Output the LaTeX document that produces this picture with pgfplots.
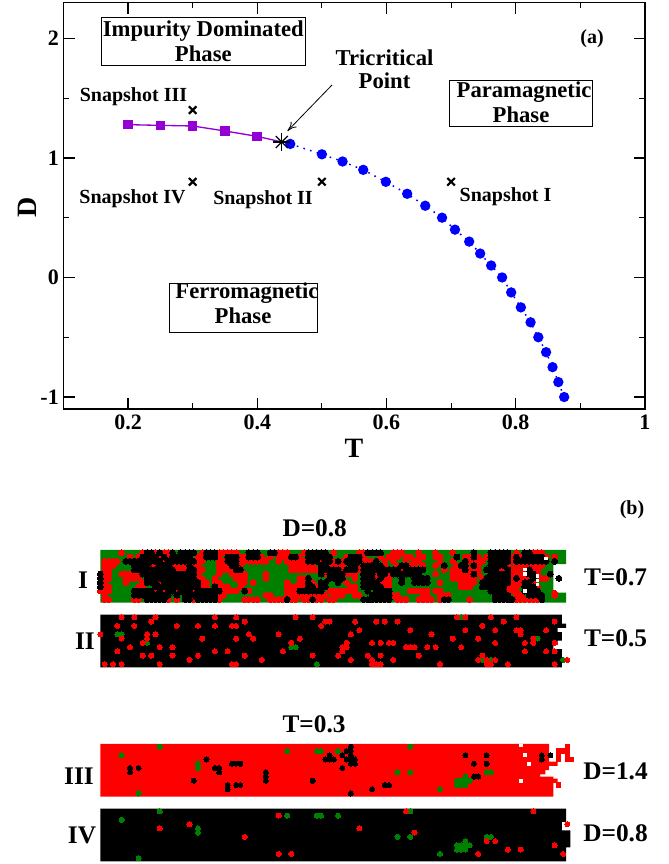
\documentclass[border=0pt]{standalone}
\usepackage{fontspec}
\setmainfont{Liberation Serif}
\usepackage{pgfplots}
\pgfplotsset{compat=1.18}
\usetikzlibrary{arrows.meta}
\definecolor{cgreen}{RGB}{0,128,0}
\definecolor{cred}{RGB}{255,0,0}
\definecolor{cpurple}{RGB}{148,0,211}
\definecolor{cblue}{RGB}{0,0,255}
\newcommand{\fs}[1]{\fontsize{#1}{#1}\selectfont\bfseries}
\pgfplotsset{
  panel/.style={scale only axis,width=359.8pt,height=39.525pt,anchor=south west,
    xmin=0,xmax=113,ymin=-0.65,ymax=11.75,y dir=reverse,hide axis},
  dotr/.style={only marks,mark=*,mark size=1.9pt,mark options={fill=cred,draw=cred,line width=0pt}},
  dotk/.style={only marks,mark=*,mark size=1.9pt,mark options={fill=black,draw=black,line width=0pt}},
  dotg/.style={only marks,mark=*,mark size=1.9pt,mark options={fill=cgreen,draw=cgreen,line width=0pt}},
}
\begin{document}
\begin{tikzpicture}[x=0.75pt,y=0.75pt]
\path[use as bounding box] (0,0) rectangle (668,864);
% ---------- panel (a)
\begin{axis}[scale only axis,width=436.1pt,height=304.9pt,anchor=south west,
  at={(47.6pt,341.25pt)},
  xmin=0.1,xmax=1,ymin=-1.1,ymax=2.3,
  xtick={0.2,0.4,0.6,0.8,1},xticklabels={0.2,0.4,0.6,0.8,1},
  minor xtick={0.3,0.5,0.7,0.9},
  ytick={-1,0,1,2},yticklabels={-1,0,1,2},
  minor ytick={-0.5,0.5,1.5},
  tick align=inside,
  major tick length=8.5pt,minor tick length=4.3pt,
  axis line style={line width=1.1pt},
  every tick/.style={black,line width=0.9pt},
  tick label style={font=\fs{16.5}},
  xticklabel style={yshift=-1pt},
  xlabel={T},ylabel={D},
  xlabel style={font=\fs{21},at={(axis description cs:0.4996,-0.096)},anchor=center},
  ylabel style={font=\fs{21},at={(axis description cs:-0.0628,0.497)},anchor=center,rotate=0},
  clip=false]
\addplot[cblue,line width=1.1pt,dash pattern=on 1.2pt off 4pt,mark=*,mark options={solid,fill=cblue,draw=cblue},mark size=3.3pt] coordinates {
(0.451,1.117)(0.5,1.03)(0.532,0.97)(0.564,0.90)(0.599,0.80)(0.632,0.70)(0.66,0.60)(0.686,0.50)(0.706,0.40)(0.728,0.30)(0.745,0.20)(0.762,0.10)(0.779,0.0)(0.793,-0.125)(0.808,-0.25)(0.823,-0.375)(0.835,-0.5)(0.847,-0.625)(0.857,-0.75)(0.866,-0.875)(0.875,-1.0)};
\addplot[cpurple,line width=1pt,mark=square*,mark options={fill=cpurple,draw=cpurple},mark size=3.1pt] coordinates {
(0.2,1.278)(0.25,1.272)(0.3,1.267)(0.35,1.225)(0.4,1.18)};
\addplot[cpurple,line width=1pt] coordinates {(0.4,1.18)(0.438,1.133)};
\addplot[only marks,mark=+,mark size=6.4pt,mark options={black,line width=0.9pt}] coordinates {(0.438,1.133)};
\addplot[only marks,mark=x,mark size=6.4pt,mark options={black,line width=0.9pt}] coordinates {(0.438,1.133)};
\addplot[only marks,mark=x,mark size=4pt,mark options={black,line width=1.6pt}] coordinates {(0.3,1.4)(0.3,0.8)(0.5,0.8)(0.7,0.8)};
\end{axis}
% ---------- snapshot I
\begin{axis}[panel,at={(75.25pt,195.98pt)},
  dotr/.append style={mark size=2.2pt},dotk/.append style={mark size=2.25pt}]
\addplot[draw=none,fill=cgreen] coordinates {(0,-0.65)(109.7,-0.65)(109.7,2.7)(106.7,2.7)(106.7,9.4)(109.7,9.4)(109.7,11.75)(0,11.75)} -- cycle;
\addplot[dotr] coordinates {
(5,0)(10,0)(13,0)(15,0)(16,0)(24,0)(28,0)(29,0)(30,0)(31,0)(32,0)(42,0)(43,0)(44,0)(48,0)(55,0)(61,0)(62,0)(69,0)(70,0)(71,0)(75,0)(79,0)(83,0)(98,0)(102,0)(103,0)(104,0)
(7,1)(9,1)(14,1)(16,1)(23,1)(24,1)(28,1)(33,1)(34,1)(38,1)(40,1)(42,1)(43,1)(44,1)(47,1)(58,1)(62,1)(66,1)(68,1)(69,1)(70,1)(72,1)(73,1)(75,1)(76,1)(79,1)(80,1)(86,1)(87,1)(89,1)(91,1)(97,1)(99,1)(105,1)(107,1)
(1,2)(2,2)(3,2)(4,2)(15,2)(23,2)(24,2)(28,2)(29,2)(33,2)(34,2)(35,2)(36,2)(37,2)(38,2)(39,2)(42,2)(44,2)(45,2)(46,2)(47,2)(48,2)(52,2)(55,2)(57,2)(62,2)(63,2)(64,2)(67,2)(69,2)(72,2)(74,2)(75,2)(80,2)(83,2)(87,2)(88,2)(89,2)(90,2)(97,2)
(1,3)(2,3)(3,3)(12,3)(13,3)(17,3)(18,3)(20,3)(22,3)(23,3)(28,3)(29,3)(30,3)(33,3)(45,3)(46,3)(47,3)(48,3)(49,3)(50,3)(54,3)(55,3)(56,3)(57,3)(61,3)(67,3)(70,3)(73,3)(74,3)(76,3)(79,3)(84,3)(89,3)(96,3)(98,3)(99,3)(100,3)(101,3)(102,3)(103,3)(104,3)
(1,4)(2,4)(18,4)(19,4)(20,4)(23,4)(24,4)(28,4)(29,4)(30,4)(31,4)(45,4)(46,4)(47,4)(48,4)(49,4)(50,4)(51,4)(57,4)(61,4)(71,4)(81,4)(83,4)(84,4)(85,4)(87,4)(88,4)(89,4)(94,4)(95,4)(97,4)(98,4)(100,4)(102,4)(103,4)
(1,5)(2,5)(5,5)(6,5)(7,5)(8,5)(9,5)(23,5)(28,5)(31,5)(32,5)(33,5)(34,5)(39,5)(53,5)(58,5)(59,5)(60,5)(65,5)(68,5)(79,5)(83,5)(84,5)(85,5)(86,5)(87,5)(89,5)(97,5)(98,5)(99,5)(103,5)
(1,6)(2,6)(6,6)(7,6)(8,6)(9,6)(23,6)(24,6)(27,6)(32,6)(33,6)(34,6)(39,6)(47,6)(48,6)(60,6)(65,6)(67,6)(68,6)(83,6)(84,6)(85,6)(86,6)(87,6)(88,6)(90,6)(97,6)(99,6)(100,6)(101,6)(104,6)(105,6)
(1,7)(6,7)(10,7)(14,7)(24,7)(25,7)(27,7)(28,7)(33,7)(34,7)(36,7)(44,7)(47,7)(48,7)(50,7)(58,7)(66,7)(67,7)(68,7)(80,7)(85,7)(86,7)(87,7)(88,7)(97,7)(98,7)(99,7)(102,7)
(1,8)(2,8)(9,8)(10,8)(24,8)(25,8)(28,8)(29,8)(30,8)(33,8)(44,8)(45,8)(46,8)(47,8)(48,8)(51,8)(59,8)(60,8)(67,8)(68,8)(85,8)(86,8)(87,8)(96,8)(97,8)(98,8)(103,8)
(0,9)(1,9)(2,9)(13,9)(15,9)(18,9)(22,9)(29,9)(30,9)(31,9)(32,9)(35,9)(44,9)(45,9)(46,9)(54,9)(55,9)(56,9)(57,9)(58,9)(59,9)(60,9)(73,9)(74,9)(75,9)(76,9)(77,9)(79,9)(80,9)(96,9)(97,9)(98,9)(107,9.5)
(1,10)(28,10)(29,10)(39,10)(40,10)(44,10)(45,10)(46,10)(47,10)(48,10)(49,10)(50,10)(51,10)(52,10)(53,10)(55,10)(56,10)(57,10)(60,10)(61,10)(69,10)(70,10)(76,10)(77,10)(80,10)(81,10)(82,10)(98,10)(99,10)(107,10)
(1,11)(2,11)(8,11)(9,11)(16,11)(18,11)(22,11)(28,11)(34,11)(35,11)(36,11)(37,11)(40,11)(41,11)(42,11)(43,11)(45,11)(46,11)(48,11)(49,11)(51,11)(52,11)(54,11)(55,11)(70,11)(71,11)(72,11)(75,11)(76,11)(77,11)(78,11)(80,11)(87,11)(98,11)(99,11)(100,11)(101,11)(102,11)(103,11)
};
\addplot[dotk] coordinates {
(11,0)(12,0)(14,0)(17,0)(19,0)(20,0)(21,0)(22,0)(25,0)(26,0)(27,0)(35,0)(36,0)(37,0)(40,0)(41,0)(49,0)(50,0)(51,0)(52,0)(53,0)(63,0)(64,0)(65,0)(66,0)(88,0)(92,0)(93,0)(94,0)(95,0)(96,0)(100,0)(101,0)
(10,1)(11,1)(12,1)(13,1)(15,1)(17,1)(18,1)(19,1)(20,1)(21,1)(25,1)(26,1)(27,1)(30,1)(31,1)(32,1)(35,1)(36,1)(37,1)(45,1)(46,1)(49,1)(50,1)(51,1)(52,1)(53,1)(54,1)(59,1)(60,1)(61,1)(84,1)(88,1)(92,1)(93,1)(94,1)(95,1)(96,1)(98,1)(100,1)(101,1)(102,1)(103,1)(104,1)
(6,2)(7,2)(8,2)(9,2)(10,2)(11,2)(12,2)(13,2)(14,2)(16,2)(17,2)(18,2)(19,2)(20,2)(21,2)(22,2)(30,2)(31,2)(32,2)(49,2)(50,2)(51,2)(53,2)(54,2)(56,2)(58,2)(59,2)(60,2)(61,2)(65,2)(86,2)(92,2)(93,2)(94,2)(95,2)(96,2)(98,2)(99,2)(100,2)(101,2)(102,2)(103,2)(104,2)(105,2)(107,2)
(8,3)(9,3)(10,3)(11,3)(14,3)(15,3)(16,3)(21,3)(31,3)(32,3)(52,3)(53,3)(59,3)(60,3)(62,3)(63,3)(64,3)(65,3)(66,3)(71,3)(72,3)(81,3)(85,3)(86,3)(88,3)(92,3)(93,3)(94,3)(95,3)
(8,4)(9,4)(10,4)(11,4)(12,4)(13,4)(14,4)(15,4)(16,4)(17,4)(21,4)(22,4)(32,4)(33,4)(52,4)(53,4)(54,4)(55,4)(56,4)(58,4)(59,4)(60,4)(62,4)(63,4)(64,4)(65,4)(66,4)(67,4)(68,4)(69,4)(70,4)(72,4)(73,4)(74,4)(75,4)(76,4)(86,4)(91,4)(92,4)(93,4)(96,4)(101,4)
(0,5)(10,5)(11,5)(12,5)(13,5)(14,5)(15,5)(16,5)(17,5)(18,5)(19,5)(20,5)(21,5)(22,5)(52,5)(54,5)(55,5)(56,5)(57,5)(62,5)(63,5)(64,5)(66,5)(67,5)(69,5)(70,5)(71,5)(72,5)(73,5)(74,5)(75,5)(88,5)(92,5)(93,5)(94,5)(95,5)(96,5)(101,5)(102,5)(106,5)
(0,6)(11,6)(12,6)(13,6)(14,6)(15,6)(16,6)(17,6)(18,6)(19,6)(20,6)(21,6)(22,6)(49,6)(54,6)(55,6)(56,6)(57,6)(62,6)(63,6)(64,6)(66,6)(71,6)(74,6)(75,6)(76,6)(77,6)(91,6)(92,6)(93,6)(94,6)(95,6)(96,6)(98,6)(102,6)(108,6)
(0,7)(11,7)(12,7)(13,7)(15,7)(16,7)(17,7)(18,7)(19,7)(20,7)(21,7)(22,7)(23,7)(49,7)(52,7)(53,7)(56,7)(62,7)(63,7)(64,7)(65,7)(71,7)(74,7)(75,7)(76,7)(77,7)(90,7)(91,7)(92,7)(93,7)(94,7)(95,7)(96,7)(100,7)(101,7)
(0,8)(13,8)(14,8)(15,8)(16,8)(17,8)(18,8)(19,8)(20,8)(21,8)(22,8)(23,8)(27,8)(49,8)(50,8)(52,8)(53,8)(62,8)(63,8)(64,8)(65,8)(66,8)(90,8)(91,8)(92,8)(93,8)(94,8)(95,8)(100,8)(101,8)(102,8)
(8,9)(9,9)(10,9)(11,9)(12,9)(14,9)(16,9)(17,9)(19,9)(20,9)(21,9)(23,9)(24,9)(25,9)(26,9)(27,9)(28,9)(34,9)(47,9)(48,9)(49,9)(50,9)(51,9)(52,9)(63,9)(65,9)(66,9)(67,9)(68,9)(92,9)(93,9)(94,9)(95,9)(100,9)(101,9)(102,9)(103,9)
(8,10)(9,10)(10,10)(11,10)(12,10)(13,10)(14,10)(15,10)(16,10)(18,10)(20,10)(21,10)(22,10)(23,10)(24,10)(25,10)(26,10)(27,10)(64,10)(65,10)(66,10)(67,10)(68,10)(93,10)(94,10)(95,10)(96,10)(101,10)(102,10)(103,10)(104,10)
(11,11)(12,11)(13,11)(14,11)(15,11)(20,11)(21,11)(23,11)(24,11)(25,11)(26,11)(27,11)(44,11)(50,11)(62,11)(63,11)(64,11)(65,11)(66,11)(67,11)(68,11)(81,11)(82,11)(93,11)(94,11)(95,11)(96,11)(97,11)(104,11)
};
\addplot[only marks,mark=square*,mark size=0.9pt,mark options={fill=white,draw=white,line width=0pt}] coordinates {(100,4)(100,5)(103,5.5)(103,6.5)(103,7.5)(105,1.3)(100,9)};
\end{axis}
% ---------- snapshot II
\begin{axis}[panel,at={(75.25pt,147.53pt)}]
\addplot[draw=none,fill=black] coordinates {(0,-0.65)(108.7,-0.65)(108.7,1.5)(109.7,1.5)(109.7,2.5)(107.7,2.5)(107.7,3.5)(108.7,3.5)(108.7,5.5)(107.7,5.5)(107.7,6.5)(106.7,6.5)(106.7,7.5)(108.7,7.5)(108.7,11.75)(0,11.75)} -- cycle;
\addplot[dotg] coordinates {(4,4)(5,4)(11,6)(45,7)(46,7)(51,11)(85,0)(103,5)(90,10)(92,10)(109,10)};
\addplot[dotr] coordinates {
(5,0)(8,0)(13,0)(27,0)(32,0)(46,0)(50,0)(84,0)(86,0)(92,0)(98,0)
(12,1)(34,1)(53,1)(54,1)(60,1)(65,1)(67,1)(70,1)(95,1)(107,1)
(4,2)(8,2)(18,2)(23,2)(27,2)(31,2)(32,2)(52,2)(90,2)
(61,3)(73,3)(86,3)(93,3)(98,3)(99,3)(105,3)
(0,4)(11,4)(13,4)(35,4)(42,4)(59,4)(78,4)(99,4)
(5,5)(11,5)(24,5)(32,5)(36,5)(47,5)(83,5)(89,5)(102,5)
(10,6)(45,6)(58,6)(64,6)(66,6)(68,6)(69,6)(93,6)(100,6)(102,6)(107,6)
(7,7)(14,7)(17,7)(57,7)(58,7)(72,7)(73,7)(74,7)(77,7)(79,7)(85,7)
(4,8)(27,8)(30,8)(43,8)(57,8)(100,8)(105,8)(107,8)
(10,9)(12,9)(17,9)(23,9)(34,9)(50,9)(56,9)(63,9)(66,9)(75,9)(90,9)
(21,10)(38,10)(59,10)(64,10)(69,10)(89,10)(91,10)(93,10)(110,10)
(1,11)(3,11)(5,11)(14,11)(31,11)(32,11)(64,11)(65,11)(66,11)(80,11)(91,11)(92,11)(96,11)(107,11)
};
\end{axis}
% ---------- snapshot III
\begin{axis}[panel,at={(75.25pt,50.48pt)}]
\addplot[draw=none,fill=cred] coordinates {(0,-0.65)(105.7,-0.65)(105.7,3.5)(107.7,3.5)(107.7,4.5)(105.7,4.5)(105.7,5.5)(104.8,5.5)(104.8,6.5)(103.6,6.5)(103.6,7)(106.7,7)(106.7,7.5)(107.7,7.5)(107.7,8.5)(106.7,8.5)(106.7,11.75)(0,11.75)} -- cycle;
\addplot[only marks,mark=square*,mark size=1.6pt,mark options={fill=cred,draw=cred,line width=0pt}] coordinates {(110,0)(108,1)(109,1)(110,1)(108,2)(110,2)(108,3)(110,3)(111,3)(108,9)};
\addplot[only marks,mark=square*,mark size=1.1pt,mark options={fill=white,draw=white,line width=0pt}] coordinates {(100,2)(101,4)(99,8)(99,-0.3)};
\addplot[dotg] coordinates {(5,2)(14,0)(23,4)(23,5)(9,11)(44,1)(51,1)(52,1)(56,1)(73,0)(70,6)(73,6)(91,6)(92,6)(80,10)(86,7)(84,8)(85,8)(86,8)(87,8)(84,9)(85,9)(86,9)};
\addplot[dotk] coordinates {(25,3)(7,5)(9,5)(7,6)(27,5)(28,5)(28,6)(31,4)(32,4)(33,4)(39,6)(39,7)(39,8)(22,8)(50,8)(30,9)(32,9)(33,9)(30,10)(57,5)(53,3)(54,3)(55,3)(54,2)(57,2)(58,1)(59,0)(59,1)(59,2)(58,3)(59,3)(60,3)(59,4)(60,4)(59,11)(64,10)(67,9)(68,9)(86,2)(91,2)(88,4)(91,4)(88,7)(89,7)(104,2)(104,3)(106,2)};
\end{axis}
% ---------- snapshot IV
\begin{axis}[panel,at={(75.25pt,2.03pt)}]
\addplot[draw=none,fill=black] coordinates {(0,-0.65)(109.7,-0.65)(109.7,2.5)(108.7,2.5)(108.7,4.5)(110.7,4.5)(110.7,8.5)(109.7,8.5)(109.7,11.75)(0,11.75)} -- cycle;
\addplot[dotg] coordinates {(5,2)(14,0)(23,4)(23,5)(9,11)(44,1)(51,1)(52,1)(56,1)(73,0)(70,6)(73,6)(91,6)(92,6)(80,10)(86,7)(84,8)(85,8)(86,8)(87,8)(84,9)(85,9)(86,9)};
\addplot[dotr] coordinates {(14,4)(21,3)(34,6)(42,1)(42,10)(45,10)(61,4)(72,0)(74,5)(91,7)(93,7)(96,9)(99,9)(89,10)(102,0)(107,8)(110,3)(109,10)};
\end{axis}
% ---------- text
\tikzset{tb/.style={inner sep=0pt,align=center}}
\node[draw,line width=0.6pt,minimum width=153.5pt,minimum height=36.5pt] at (203.3,864-41.5) {};
\node[draw,line width=0.6pt,minimum width=107.5pt,minimum height=35pt] at (521,864-103.5) {};
\node[draw,line width=0.6pt,minimum width=111.5pt,minimum height=37pt] at (243.5,864-308) {};
\node[tb] at (203.3,864-31) {\fs{17}Impurity Dominated};
\node[tb] at (203.3,864-54) {\fs{17}Phase};
\node[tb] at (524,864-92) {\fs{17}Paramagnetic};
\node[tb] at (521,864-115) {\fs{17}Phase};
\node[tb] at (247,864-293) {\fs{17}Ferromagnetic};
\node[tb] at (243,864-316) {\fs{17}Phase};
\node[tb] at (384.5,864-58) {\fs{17}Tricritical};
\node[tb] at (384.5,864-81) {\fs{17}Point};
\node[tb] at (133.5,864-97) {\fs{15}Snapshot III};
\node[tb] at (132.5,864-199) {\fs{15}Snapshot IV};
\node[tb] at (263,864-200) {\fs{15}Snapshot II};
\node[tb] at (505.5,864-197) {\fs{15}Snapshot I};
\node[tb] at (592,864-39) {\fs{15}(a)};
\node[tb] at (632,864-510) {\fs{15}(b)};
\draw[-{To[length=7pt,width=6pt]},line width=0.6pt] (332,864-85) -- (287.5,864-131);
\node[tb] at (314.7,864-528) {\fs{19}D=0.8};
\node[tb] at (314,864-724) {\fs{19}T=0.3};
\node[tb] at (83,864-580) {\fs{19}I};
\node[tb] at (85,864-641) {\fs{19}II};
\node[tb] at (79,864-776) {\fs{19}III};
\node[tb] at (82,864-835) {\fs{19}IV};
\node[tb] at (615.5,864-577) {\fs{19}T=0.7};
\node[tb] at (615.5,864-638) {\fs{19}T=0.5};
\node[tb] at (615.5,864-771) {\fs{19}D=1.4};
\node[tb] at (615.5,864-833) {\fs{19}D=0.8};
\end{tikzpicture}
\end{document}
